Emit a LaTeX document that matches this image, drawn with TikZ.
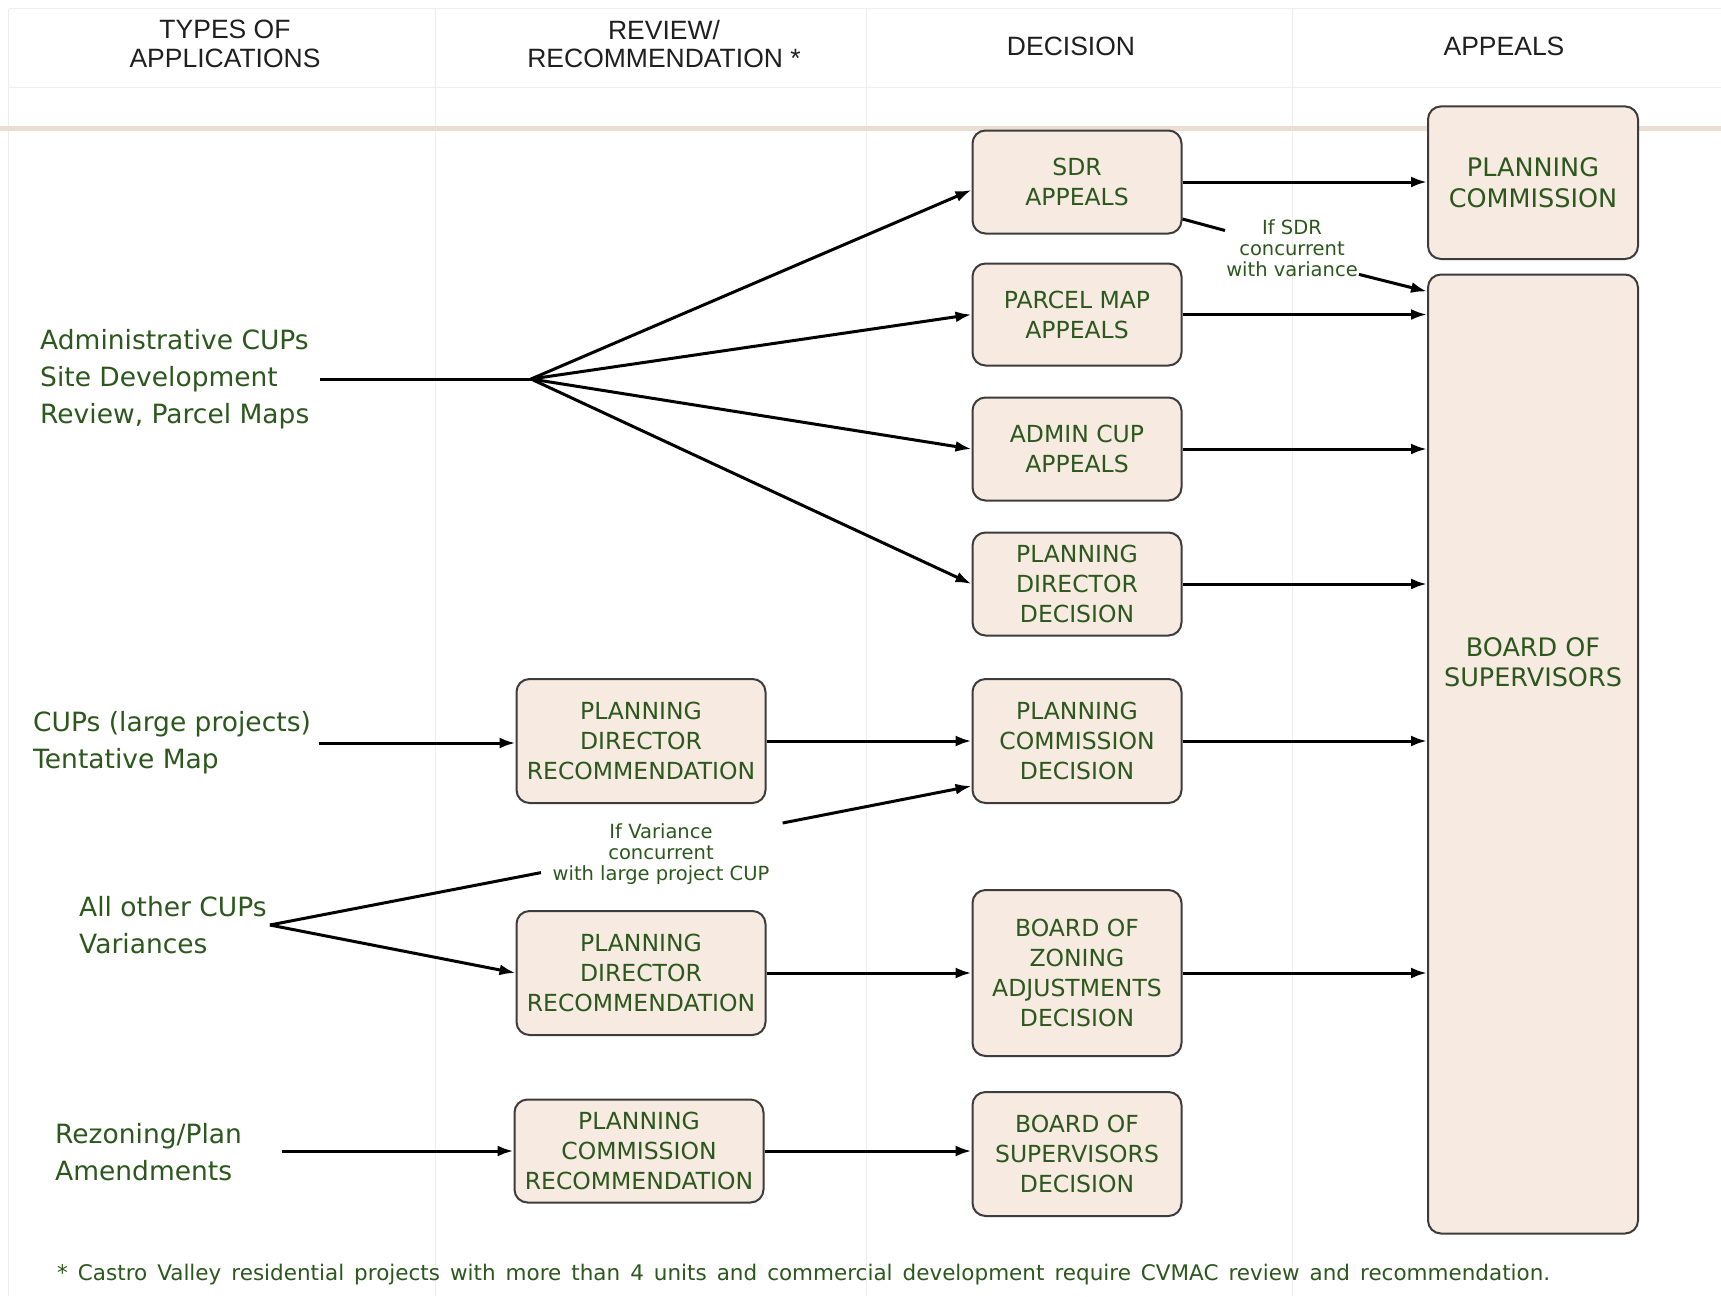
\documentclass[tikz,border=0pt]{standalone}
\usepackage{fontspec}
\setmainfont{DejaVu Sans}
\newfontfamily\headfont{Liberation Sans}
\usetikzlibrary{arrows.meta}
\definecolor{boxfill}{RGB}{247,234,224}
\definecolor{boxline}{RGB}{60,60,60}
\definecolor{txtgreen}{RGB}{44,88,30}
\definecolor{bandpink}{RGB}{236,221,211}
\definecolor{gridgray}{RGB}{238,238,238}
\begin{document}
\begin{tikzpicture}[x=1pt, y=-1pt,
    stagebox/.style={draw=boxline, fill=boxfill, line width=2pt, rounded corners=13pt,
        align=center, text=txtgreen, inner sep=0pt},
    decision/.style={stagebox, minimum width=209pt, font=\fontsize{23.5}{30}\selectfont},
    review/.style={stagebox, minimum width=249pt, font=\fontsize{23.5}{30}\selectfont},
    appeal/.style={stagebox, minimum width=210pt, font=\fontsize{25.5}{30.5}\selectfont},
    apptext/.style={align=left, text=txtgreen, inner sep=3pt, font=\fontsize{26.5}{37}\selectfont},
    note/.style={align=center, text=txtgreen, inner sep=1pt, font=\fontsize{19.5}{21}\selectfont},
    head/.style={align=center, text=black!88, font=\headfont\fontsize{26.5}{28.5}\selectfont},
    line/.style={line width=3pt},
    link/.style={line, -{Latex[length=16pt,width=11pt]}},
    grid/.style={gridgray, line width=1pt}]
    \def\dx{1077} % decision column
    \def\rx{641}  % review column
    \def\ax{1533} % appeals column
    \fill[white] (0,0) rectangle (1721,1296);
    \useasboundingbox (0,0) rectangle (1721,1296);
    % column grid and header band
    \foreach \gx in {8.8,435.7,866,1292}
        \draw[grid] (\gx,8.8) -- (\gx,1296);
    \draw[grid] (8.8,8.8) -- (1721,8.8);
    \draw[grid] (8.8,87.8) -- (1721,87.8);
    \draw[bandpink, line width=5.5pt] (0,128.4) -- (1721,128.4);
    \node[head] (hTypes) at (225,44) {TYPES OF\\APPLICATIONS};
    \node[head] (hReview) at (664,44) {REVIEW/\\RECOMMENDATION *};
    \node[head] (hDecision) at (1071,46) {DECISION};
    \node[head] (hAppeals) at (1504,46) {APPEALS};
    % application types
    \node[apptext, anchor=west] (admin) at (37,379) {Administrative CUPs\\Site Development\\Review, Parcel Maps};
    \node[apptext, anchor=west] (cups) at (30,743) {CUPs (large projects)\\Tentative Map};
    \node[apptext, anchor=west] (other) at (76,925) {All other CUPs\\Variances};
    \node[apptext, anchor=west] (rezone) at (52,1152) {Rezoning/Plan\\Amendments};
    % review / recommendation
    \node[review, minimum height=124pt] (pdrA) at (\rx,741) {PLANNING\\DIRECTOR\\RECOMMENDATION};
    \node[review, minimum height=124pt] (pdrB) at (\rx,973) {PLANNING\\DIRECTOR\\RECOMMENDATION};
    \node[review, minimum height=103pt] (pcr) at (639,1151) {PLANNING\\COMMISSION\\RECOMMENDATION};
    % decisions
    \node[decision, minimum height=103pt] (sdr) at (\dx,182) {SDR\\APPEALS};
    \node[decision, minimum height=102pt] (parcel) at (\dx,314.5) {PARCEL MAP\\APPEALS};
    \node[decision, minimum height=103pt] (admincup) at (\dx,449) {ADMIN CUP\\APPEALS};
    \node[decision, minimum height=103pt] (pdd) at (\dx,584) {PLANNING\\DIRECTOR\\DECISION};
    \node[decision, minimum height=124pt] (pcd) at (\dx,741) {PLANNING\\COMMISSION\\DECISION};
    \node[decision, minimum height=166pt] (bza) at (\dx,973) {BOARD OF\\ZONING\\ADJUSTMENTS\\DECISION};
    \node[decision, minimum height=124pt] (bsd) at (\dx,1154) {BOARD OF\\SUPERVISORS\\DECISION};
    % appeals
    \node[appeal, minimum height=152.6pt] (pcapp) at (\ax,182.7) {PLANNING\\COMMISSION};
    \node[appeal, minimum height=959pt] (bos) at (\ax,754) {};
    \node[appeal, draw=none, fill=none] (bostext) at (\ax,662) {BOARD OF\\SUPERVISORS};
    % notes
    \node[note] (sdrnote) at (1292,248) {If SDR\\concurrent\\with variance};
    \node[note] (varnote) at (661,854) {If Variance\\concurrent\\with large project CUP};
    \coordinate (hubA) at (531,379);
    \coordinate (sdrA) at (1225,230.5);
    \coordinate (sdrB) at (1359,274.4);
    \coordinate (varA) at (541,872.6);
    \coordinate (varB) at (782.6,823);
    \coordinate (rezA) at (282,1151);
    % connectors
    \draw[line] ([xshift=7pt]admin.east) -- (hubA);
    \draw[link] (hubA) -- ([yshift=-8pt]sdr.west);
    \draw[link] (hubA) -- (parcel.west);
    \draw[link] (hubA) -- (admincup.west);
    \draw[link] (hubA) -- (pdd.west);
    \draw[link] ([xshift=5pt]cups.east) -- (cups.east -| pdrA.west);
    \draw[link] (pdrA.east) -- (pcd.west);
    \draw[line] (other.east) -- (varA);
    \draw[link] (varB) -- ([yshift=-45pt]pcd.west);
    \draw[link] (other.east) -- (pdrB.west);
    \draw[link] (pdrB.east) -- (bza.west);
    \draw[link] (rezA) -- (rezA -| pcr.west);
    \draw[link] (pcr.east) -- (pcr.east -| bsd.west);
    \draw[link] (sdr.east) -- (sdr.east -| pcapp.west);
    \draw[line] ([yshift=-37pt]sdr.east) -- (sdrA);
    \draw[link] (sdrB) -- ([yshift=-18pt]bos.north west);
    \draw[link] (parcel.east) -- (parcel.east -| bos.west);
    \draw[link] (admincup.east) -- (admincup.east -| bos.west);
    \draw[link] (pdd.east) -- (pdd.east -| bos.west);
    \draw[link] (pcd.east) -- (pcd.east -| bos.west);
    \draw[link] (bza.east) -- (bza.east -| bos.west);
    % footnote
    \node[apptext, anchor=west, font=\fontsize{21.5}{24}\selectfont] (foot) at (54,1275)
        {\hbox to 1493pt{* Castro Valley residential projects with more than 4 units and commercial development require CVMAC review and recommendation.}};
\end{tikzpicture}
\end{document}
